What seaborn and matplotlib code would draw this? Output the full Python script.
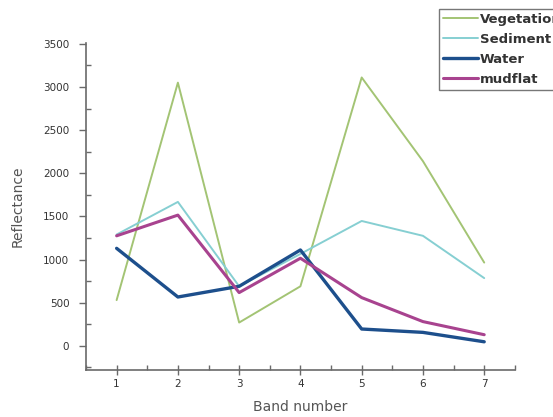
import matplotlib
matplotlib.use("Agg")
import matplotlib.pyplot as plt
import seaborn as sns
import pandas as pd
from matplotlib.ticker import MultipleLocator

# Reflectance per Landsat band for each surface class
bands = [1, 2, 3, 4, 5, 6, 7]
vegetation = [530, 3050, 270, 690, 3110, 2140, 965]
sediment = [1290, 1668, 690, 1065, 1447, 1275, 785]
water = [1130, 566, 690, 1111, 195, 156, 47]
mudflat = [1275, 1515, 617, 1015, 559, 281, 129]

classes = ["Vegetation", "Sediment", "Water", "mudflat"]
colors = ["#a3c474", "#86cfd2", "#1d4f8c", "#a8438f"]
widths = [1.4, 1.4, 2.4, 2.2]

df = pd.concat([
    pd.DataFrame({"Band number": bands, "Reflectance": vals, "Class": name})
    for name, vals in zip(classes, [vegetation, sediment, water, mudflat])
], ignore_index=True)

sns.set_style("white")
plt.rcParams["font.family"] = ["DejaVu Sans"]

fig = plt.figure(figsize=(5.53, 4.17), dpi=100)
ax = fig.add_axes([0.1555, 0.1127, 0.7755, 0.7843])

sns.lineplot(data=df, x="Band number", y="Reflectance", hue="Class",
             hue_order=classes, palette=dict(zip(classes, colors)),
             size="Class", size_order=classes,
             sizes=dict(zip(classes, widths)), sort=False, ax=ax,
             legend=False)

ax.set_xlim(0.5, 7.5)
ax.set_ylim(-280, 3510)
ax.set_xticks(bands)
ax.set_yticks(range(0, 3501, 500))
ax.xaxis.set_minor_locator(MultipleLocator(0.5))
ax.yaxis.set_minor_locator(MultipleLocator(250))

spine_col = "#6a6a6a"
for side in ["top", "right"]:
    ax.spines[side].set_visible(False)
for side in ["left", "bottom"]:
    ax.spines[side].set_color(spine_col)
    ax.spines[side].set_linewidth(1.2)

ax.tick_params(axis="x", which="major", direction="inout", length=7, width=1,
               color=spine_col, labelsize=7.5, labelcolor="#333333", pad=3, bottom=True)
ax.tick_params(axis="x", which="minor", direction="in", length=3.5, width=1,
               color=spine_col, bottom=True)
ax.tick_params(axis="y", which="major", direction="out", length=5, width=1,
               color=spine_col, labelsize=7.5, labelcolor="#333333", pad=7, left=True)
ax.tick_params(axis="y", which="minor", direction="in", length=3.5, width=1,
               color=spine_col, left=True)

ax.set_xlabel("Band number", fontsize=10, color="#555555", labelpad=8)
ax.set_ylabel("Reflectance", fontsize=10, color="#555555", labelpad=13)

handles = [plt.Line2D([], [], color=c, lw=w) for c, w in zip(colors, widths)]
leg = fig.legend(handles, classes, loc="upper left",
                 bbox_to_anchor=(439 / 553, 1 - 9 / 417),
                 bbox_transform=fig.transFigure,
                 prop={"family": "DejaVu Sans", "size": 9.5, "weight": "bold"},
                 frameon=True, fancybox=False,
                 handlelength=2.65, handletextpad=0.15, labelspacing=0.54,
                 borderpad=0.27, borderaxespad=0)
leg.get_frame().set_edgecolor("#555555")
leg.get_frame().set_linewidth(1.0)
for t in leg.get_texts():
    t.set_color("#333333")

fig.savefig("out.png", dpi=100)
